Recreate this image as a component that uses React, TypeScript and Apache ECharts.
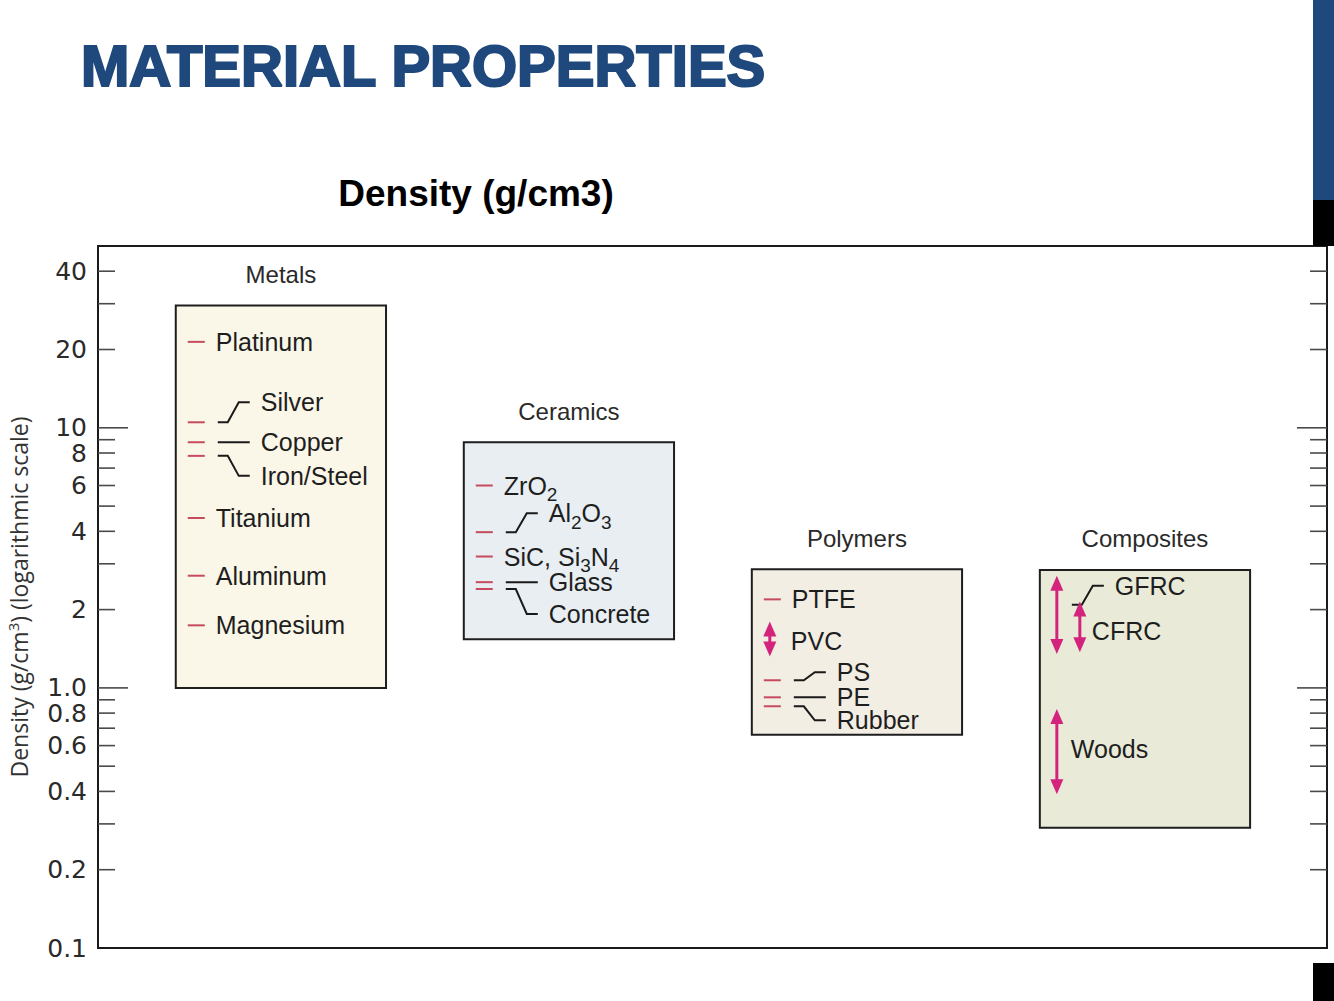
import React, { useEffect, useRef } from 'react';
import * as echarts from 'echarts';

// ---------------- data ----------------
const GROUP_NAMES = ['Metals', 'Ceramics', 'Polymers', 'Composites'];
const GROUP_LOW = [1.0, 1.54, 0.66, 0.29];
const GROUP_HIGH = [29.5, 8.8, 2.86, 2.84];

const METAL_NAMES = ['Platinum', 'Silver', 'Copper', 'Iron/Steel', 'Titanium', 'Aluminum', 'Magnesium'];
const METAL_DENSITY = [21.4, 10.5, 8.8, 7.8, 4.5, 2.7, 1.74];

const CERAMIC_NAMES = ['ZrO{s|2}', 'Al{s|2}O{s|3}', 'SiC, Si{s|3}N{s|4}', 'Glass', 'Concrete'];
const CERAMIC_DENSITY = [6.0, 3.97, 3.2, 2.55, 2.4];

const POLYMER_NAMES = ['PTFE', 'PS', 'PE', 'Rubber'];
const POLYMER_DENSITY = [2.19, 1.07, 0.92, 0.85];

const RANGE_NAMES = ['PVC', 'GFRC', 'CFRC', 'Woods'];
const RANGE_GROUP = [2, 3, 3, 3];
const RANGE_LOW = [1.32, 1.35, 1.37, 0.39];
const RANGE_HIGH = [1.8, 2.7, 2.15, 0.83];

const TICK_VALUES = [40, 30, 20, 10, 9, 8, 7, 6, 5, 4, 3, 2, 1, 0.9, 0.8, 0.7, 0.6, 0.5, 0.4, 0.3, 0.2];
const MAJOR_TICKS = [10, 1];
const TICK_LABEL_VALUES = [40, 20, 10, 8, 6, 4, 2, 1, 0.8, 0.6, 0.4, 0.2, 0.1];
const TICK_LABELS = ['40', '20', '10', '8', '6', '4', '2', '1.0', '0.8', '0.6', '0.4', '0.2', '0.1'];

// ---------------- layout / style ----------------
const X_MIN = -0.635;
const X_MAX = 3.632;
const Y_MIN = 0.1;
const Y_MAX = 50;
const BOX_HALF = 0.365;
const BOX_FILLS = ['#faf7e9', '#e8eef2', '#f2eee4', '#e9ebd8'];
const DASH_COLOR = '#c64b5e';
const ARROW_COLOR = '#d4237c';
const TEXT_COLOR = '#1e1e1e';
const LABEL_FONT = 'Liberation Sans';
const LABEL_SIZE = 25;

// leader shift (px) for labels that are pulled away from their dash
const LEADER_SHIFT: Record<string, number> = {
  Silver: -20,
  Copper: 0,
  'Iron/Steel': 20,
  'Al{s|2}O{s|3}': -19,
  Glass: 0,
  Concrete: 25,
  PS: -8,
  PE: 0,
  Rubber: 14,
};

const RANGE_LAYOUT: Record<string, any> = {
  PVC: { arrowDx: 18, labelDx: 39, labelDy: 2 },
  GFRC: { arrowDx: 17, leaderDx: 32, leaderDy: -10, leaderShift: -19 },
  CFRC: { arrowDx: 40, labelDx: 52, labelDy: 4 },
  Woods: { arrowDx: 17, labelDx: 31, labelDy: -3 },
};

type Item = { group: number; value: number; name: string };
const MAT_ITEMS: Item[] = [
  ...METAL_NAMES.map((n, i) => ({ group: 0, value: METAL_DENSITY[i], name: n })),
  ...CERAMIC_NAMES.map((n, i) => ({ group: 1, value: CERAMIC_DENSITY[i], name: n })),
  ...POLYMER_NAMES.map((n, i) => ({ group: 2, value: POLYMER_DENSITY[i], name: n })),
];

const SUB_RICH = {
  s: { fontSize: 19, fontFamily: LABEL_FONT, fill: TEXT_COLOR, lineHeight: 6, padding: [18, 0, 0, 0] },
};

function labelText(x: number, y: number, text: string) {
  return {
    type: 'text',
    x,
    y,
    style: {
      text,
      fill: TEXT_COLOR,
      fontSize: LABEL_SIZE,
      fontFamily: LABEL_FONT,
      lineHeight: 26,
      textAlign: 'left',
      textVerticalAlign: 'middle',
      rich: SUB_RICH,
    },
  };
}

function leader(x0: number, y: number, s: number) {
  const pts = s === 0
    ? [[x0, y], [x0 + 32, y]]
    : [[x0, y], [x0 + 10, y], [x0 + 21, y + s], [x0 + 32, y + s]];
  return {
    type: 'polyline',
    shape: { points: pts },
    style: { stroke: '#1a1a1a', lineWidth: 2, fill: 'none' },
  };
}

export default function App() {
  const ref = useRef<HTMLDivElement>(null);

  useEffect(() => {
    if (!ref.current) return;
    const chart = echarts.init(ref.current, undefined, { renderer: 'svg' });

    const option: any = {
      animation: false,
      backgroundColor: '#ffffff',
      grid: {
        left: 98,
        top: 246,
        width: 1229,
        height: 702,
        show: true,
        borderColor: '#1a1a1a',
        borderWidth: 2,
        backgroundColor: 'transparent',
      },
      xAxis: { type: 'value', min: X_MIN, max: X_MAX, show: false },
      yAxis: { type: 'log', logBase: 10, min: Y_MIN, max: Y_MAX, show: false },
      graphic: [
        {
          type: 'text',
          x: 81,
          y: 65,
          style: {
            text: 'MATERIAL PROPERTIES',
            fill: '#1f497d',
            stroke: '#1f497d',
            lineWidth: 2.2,
            fontSize: 58,
            fontWeight: 900,
            fontFamily: 'Liberation Sans',
            textAlign: 'left',
            textVerticalAlign: 'middle',
          },
        },
        {
          type: 'text',
          x: 476,
          y: 193,
          style: {
            text: 'Density (g/cm3)',
            fill: '#000',
            fontSize: 37,
            fontWeight: 'bold',
            fontFamily: 'Liberation Sans',
            textAlign: 'center',
            textVerticalAlign: 'middle',
          },
        },
        {
          type: 'text',
          x: 19,
          y: 597,
          rotation: Math.PI / 2,
          style: {
            text: 'Density (g/cm{sup|3}) (logarithmic scale)',
            fill: '#333',
            fontSize: 23,
            fontFamily: 'Open Sans',
            textAlign: 'center',
            textVerticalAlign: 'middle',
            rich: {
              sup: { fontSize: 15, fontFamily: 'Open Sans', fill: '#333', padding: [0, 0, 12, 0] },
            },
          },
        },
        { type: 'rect', shape: { x: 1313, y: 0, width: 21, height: 200 }, style: { fill: '#1f497d' }, z: 100 },
        { type: 'rect', shape: { x: 1313, y: 200, width: 21, height: 46 }, style: { fill: '#000' }, z: 100 },
        { type: 'rect', shape: { x: 1313, y: 963, width: 21, height: 38 }, style: { fill: '#000' }, z: 100 },
      ],
      series: [
        // ticks
        {
          type: 'custom',
          name: 'ticks',
          data: TICK_VALUES.map((v) => [0, v]),
          renderItem: (params: any, api: any) => {
            const v = api.value(1);
            const l = api.coord([X_MIN, v]);
            const r = api.coord([X_MAX, v]);
            const major = MAJOR_TICKS.indexOf(v) >= 0;
            const len = major ? 30 : 17;
            const st = { stroke: '#4a4a4a', lineWidth: 1.6 };
            return {
              type: 'group',
              children: [
                { type: 'line', shape: { x1: l[0], y1: l[1], x2: l[0] + len, y2: l[1] }, style: st },
                { type: 'line', shape: { x1: r[0] - len, y1: r[1], x2: r[0], y2: r[1] }, style: st },
              ],
            };
          },
        },
        // tick labels
        {
          type: 'custom',
          name: 'tickLabels',
          data: TICK_LABEL_VALUES.map((v) => [0, v]),
          renderItem: (params: any, api: any) => {
            const v = api.value(1);
            const p = api.coord([X_MIN, v]);
            return {
              type: 'text',
              x: p[0] - 11,
              y: p[1],
              style: {
                text: TICK_LABELS[params.dataIndex],
                fill: '#2a2a2a',
                fontSize: 25,
                lineHeight: 22,
                fontFamily: 'DejaVu Sans',
                textAlign: 'right',
                textVerticalAlign: 'middle',
              },
            };
          },
        },
        // group boxes
        {
          type: 'custom',
          name: 'groups',
          data: GROUP_NAMES.map((_, i) => [i, GROUP_LOW[i], GROUP_HIGH[i]]),
          encode: { x: 0, y: [1, 2] },
          renderItem: (params: any, api: any) => {
            const i = api.value(0);
            const lo = api.coord([i - BOX_HALF, api.value(1)]);
            const hi = api.coord([i + BOX_HALF, api.value(2)]);
            return {
              type: 'group',
              children: [
                {
                  type: 'rect',
                  shape: { x: lo[0], y: hi[1], width: hi[0] - lo[0], height: lo[1] - hi[1] },
                  style: { fill: BOX_FILLS[i], stroke: '#1e1e1e', lineWidth: 2 },
                },
                {
                  type: 'text',
                  x: (lo[0] + hi[0]) / 2,
                  y: hi[1] - 31,
                  style: {
                    text: GROUP_NAMES[i],
                    fill: '#2a2a2a',
                    fontSize: 24,
                    fontFamily: LABEL_FONT,
                    textAlign: 'center',
                    textVerticalAlign: 'middle',
                  },
                },
              ],
            };
          },
        },
        // single-valued materials
        {
          type: 'custom',
          name: 'materials',
          data: MAT_ITEMS.map((it) => [it.group, it.value]),
          renderItem: (params: any, api: any) => {
            const it = MAT_ITEMS[params.dataIndex];
            const p = api.coord([api.value(0) - BOX_HALF, api.value(1)]);
            const left = p[0];
            const y = p[1];
            const children: any[] = [
              {
                type: 'line',
                shape: { x1: left + 12, y1: y, x2: left + 29, y2: y },
                style: { stroke: DASH_COLOR, lineWidth: 2 },
              },
            ];
            const s = LEADER_SHIFT[it.name];
            if (s === undefined) {
              children.push(labelText(left + 40, y, it.name));
            } else {
              children.push(leader(left + 42, y, s));
              children.push(labelText(left + 85, y + s, it.name));
            }
            return { type: 'group', children };
          },
        },
        // ranges (double arrows)
        {
          type: 'custom',
          name: 'ranges',
          data: RANGE_NAMES.map((_, i) => [RANGE_GROUP[i], RANGE_LOW[i], RANGE_HIGH[i]]),
          encode: { x: 0, y: [1, 2] },
          renderItem: (params: any, api: any) => {
            const name = RANGE_NAMES[params.dataIndex];
            const lay = RANGE_LAYOUT[name];
            const g = api.value(0);
            const top = api.coord([g - BOX_HALF, api.value(2)]);
            const bot = api.coord([g - BOX_HALF, api.value(1)]);
            const left = top[0];
            const x = left + lay.arrowDx;
            const yT = top[1];
            const yB = bot[1];
            const mid = (yT + yB) / 2;
            const head = 15;
            const hw = 6.5;
            const children: any[] = [
              {
                type: 'line',
                shape: { x1: x, y1: yT + 6, x2: x, y2: yB - 6 },
                style: { stroke: ARROW_COLOR, lineWidth: 3 },
              },
              {
                type: 'polygon',
                shape: { points: [[x, yT], [x - hw, yT + head], [x + hw, yT + head]] },
                style: { fill: ARROW_COLOR },
              },
              {
                type: 'polygon',
                shape: { points: [[x, yB], [x - hw, yB - head], [x + hw, yB - head]] },
                style: { fill: ARROW_COLOR },
              },
            ];
            if (lay.leaderDx !== undefined) {
              const y0 = mid + lay.leaderDy;
              children.push(leader(left + lay.leaderDx, y0, lay.leaderShift));
              children.push(labelText(left + lay.leaderDx + 43, y0 + lay.leaderShift, name));
            } else {
              children.push(labelText(left + lay.labelDx, mid + lay.labelDy, name));
            }
            return { type: 'group', children };
          },
        },
      ],
    };

    chart.setOption(option);
    return () => {
      chart.dispose();
    };
  }, []);

  return (
    <div
      ref={ref}
      style={{ position: 'absolute', left: 0, top: 0, width: 1334, height: 1001, background: '#fff' }}
    />
  );
}
